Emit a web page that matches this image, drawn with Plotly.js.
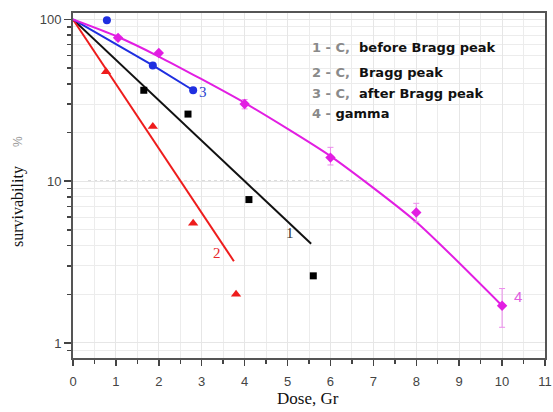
<!DOCTYPE html>
<html>
<head>
<meta charset="utf-8">
<script src="https://cdn.plot.ly/plotly-3.0.1.min.js"></script>
<style>html,body{margin:0;padding:0;background:#fff;}#chart{width:553px;height:412px;}</style>
</head>
<body>
<div id="chart"></div>
<script>
// Series 1: C before Bragg peak (black squares)
const dose1 = [1.65, 2.68, 4.1, 5.6];
const surv1 = [36.5, 26, 7.7, 2.6];
const fitDose1 = [0, 5.55];
const fitSurv1 = [100, 4.1];
// Series 2: C Bragg peak (red triangles)
const dose2 = [0.77, 1.86, 2.8, 3.8];
const surv2 = [47.5, 21.8, 5.5, 2.0];
const fitDose2 = [0, 3.75];
const fitSurv2 = [100, 3.2];
// Series 3: C after Bragg peak (blue circles)
const dose3 = [0.79, 1.86, 2.8];
const surv3 = [99, 52, 36.5];
const fitDose3 = [0, 1.86, 2.8];
const fitSurv3 = [100, 52, 36.5];
// Series 4: gamma (magenta diamonds)
const dose4 = [1.05, 2.0, 4.0, 6.0, 8.0, 10.0];
const surv4 = [77, 62, 30, 14, 6.4, 1.7];
const errPlus4 = [0, 0, 2, 2.2, 0.9, 0.47];
const errMinus4 = [0, 0, 2, 1.4, 0.8, 0.45];
const fitDose4 = [0, 1, 2, 4, 6, 8, 10];
const fitSurv4 = [100, 79, 59, 30.5, 14.3, 5.6, 1.7];
// reference level
const refLevel = 10;
const refFrom = 0.35, refTo = 7.08;
// axis ticks
const xTickVals = [0,1,2,3,4,5,6,7,8,9,10,11];
const xMinorVals = [0.5,1.5,2.5,3.5,4.5,5.5,6.5,7.5,8.5,9.5,10.5];
const yTickVals = [1, 10, 100];
const yTickText = ['1', '10', '100'];
const yMinorVals = [0.8,0.9,2,3,4,5,6,7,8,9,20,30,40,50,60,70,80,90];
// legend lines
const legendNum = ['1 - C,', '2 - C,', '3 - C,', '4 -'];
const legendText = ['  before Bragg peak', '  Bragg peak', '  after Bragg peak', ' gamma'];
const legendY = [1.824, 1.675, 1.545, 1.421];
// curve labels
const curveLabels = ['1', '2', '3', '4'];
const curveLabelX = [5.06, 3.36, 3.03, 10.37];
const curveLabelY = [0.678, 0.554, 1.551, 0.288];
const curveColors = ['#333333', '#e8262a', '#2a3fd0', '#e060e0'];

const cBlack = '#000000', cRed = '#ee1c1c', cBlue = '#1f2fe0', cMag = '#e21ee2';

const traces = [
  {x: fitDose1, y: fitSurv1, mode: 'lines', line: {color: '#111', width: 2}, hoverinfo: 'skip'},
  {x: fitDose2, y: fitSurv2, mode: 'lines', line: {color: cRed, width: 2}, hoverinfo: 'skip'},
  {x: fitDose3, y: fitSurv3, mode: 'lines', line: {color: cBlue, width: 2}, hoverinfo: 'skip'},
  {x: fitDose4, y: fitSurv4, mode: 'lines', line: {color: cMag, width: 2, shape: 'spline', smoothing: 0.6}, hoverinfo: 'skip'},
  {x: dose1, y: surv1, mode: 'markers', marker: {symbol: 'square', size: 7, color: cBlack}},
  {x: dose2, y: surv2, mode: 'markers', marker: {symbol: 'triangle-up', size: 9, color: cRed}},
  {x: dose3, y: surv3, mode: 'markers', marker: {symbol: 'circle', size: 8, color: cBlue}},
  {x: dose4, y: surv4, mode: 'markers', marker: {symbol: 'diamond', size: 8, color: cMag},
    error_y: {type: 'data', symmetric: false, array: errPlus4, arrayminus: errMinus4, color: '#ec8cec', thickness: 1, width: 3}}
];

const W = 553, H = 412, L = 73, R = 8, T = 13, B = 54;
const px = v => (v - L) / (W - L - R);
const py = v => 1 - (v - T) / (H - T - B);

const annotations = [];
for (let i = 0; i < legendNum.length; i++) {
  annotations.push({
    x: 5.52, y: legendY[i], xref: 'x', yref: 'y', xanchor: 'left', yanchor: 'middle', showarrow: false,
    text: '<span style="color:#8a8a8a">' + legendNum[i] + '</span>' + legendText[i],
    font: {family: 'DejaVu Sans', size: 13, color: '#111', weight: 'bold'}
  });
}
for (let i = 0; i < curveLabels.length; i++) {
  annotations.push({
    x: curveLabelX[i], y: curveLabelY[i], xref: 'x', yref: 'y', showarrow: false,
    xanchor: 'center', yanchor: 'middle',
    text: curveLabels[i],
    font: {family: i === 3 ? 'Liberation Sans' : 'Liberation Serif', size: 15, color: curveColors[i]}
  });
}
annotations.push({x: px(18), y: py(142), xref: 'paper', yref: 'paper', xanchor: 'center', yanchor: 'middle',
  showarrow: false, text: '%', textangle: -90,
  font: {family: 'Liberation Sans', size: 12, color: '#999'}});
annotations.push({x: px(18), y: py(207), xref: 'paper', yref: 'paper', xanchor: 'center', yanchor: 'middle',
  showarrow: false, text: 'survivability', textangle: -90,
  font: {family: 'Liberation Serif', size: 16, color: '#111'}});
annotations.push({x: px(308), y: py(398), xref: 'paper', yref: 'paper', xanchor: 'center', yanchor: 'middle',
  showarrow: false, text: 'Dose, Gr',
  font: {family: 'Liberation Serif', size: 17, color: '#111'}});

const layout = {
  width: W, height: H,
  margin: {l: L, r: R, t: T, b: B},
  paper_bgcolor: '#fff', plot_bgcolor: '#fff',
  showlegend: false,
  xaxis: {
    range: [0, 11], tickmode: 'array', tickvals: xTickVals,
    ticks: 'outside', ticklen: 6, tickwidth: 1.5, tickcolor: '#444',
    showline: true, linecolor: '#555', linewidth: 2, mirror: true,
    showgrid: true, gridcolor: '#e6e6e6', gridwidth: 1, zeroline: false,
    ticklabelstandoff: 4,
    tickfont: {family: 'Liberation Sans', size: 13, color: '#444'},
    minor: {tickmode: 'array', tickvals: xMinorVals, ticks: 'outside', ticklen: 4, tickcolor: '#444', tickwidth: 1.5, showgrid: true, gridcolor: '#ececec'}
  },
  yaxis: {
    type: 'log', range: [-0.093, 2.040], tickmode: 'array', tickvals: yTickVals, ticktext: yTickText,
    ticks: 'outside', ticklen: 7, tickwidth: 1.5, tickcolor: '#444',
    showline: true, linecolor: '#555', linewidth: 2, mirror: true,
    showgrid: true, gridcolor: '#e6e6e6', gridwidth: 1, zeroline: false,
    tickfont: {family: 'Liberation Sans', size: 13, color: '#444'},
    minor: {tickmode: 'array', tickvals: yMinorVals, ticks: 'outside', ticklen: 4, tickcolor: '#444', tickwidth: 1.5, showgrid: true, gridcolor: '#ececec'}
  },
  shapes: [{type: 'line', xref: 'x', yref: 'y', x0: refFrom, x1: refTo, y0: refLevel, y1: refLevel,
    line: {color: '#888', width: 1, dash: 'dot'}, layer: 'below'}],
  annotations: annotations
};

Plotly.newPlot('chart', traces, layout, {displayModeBar: false, staticPlot: true});
</script>
</body>
</html>
